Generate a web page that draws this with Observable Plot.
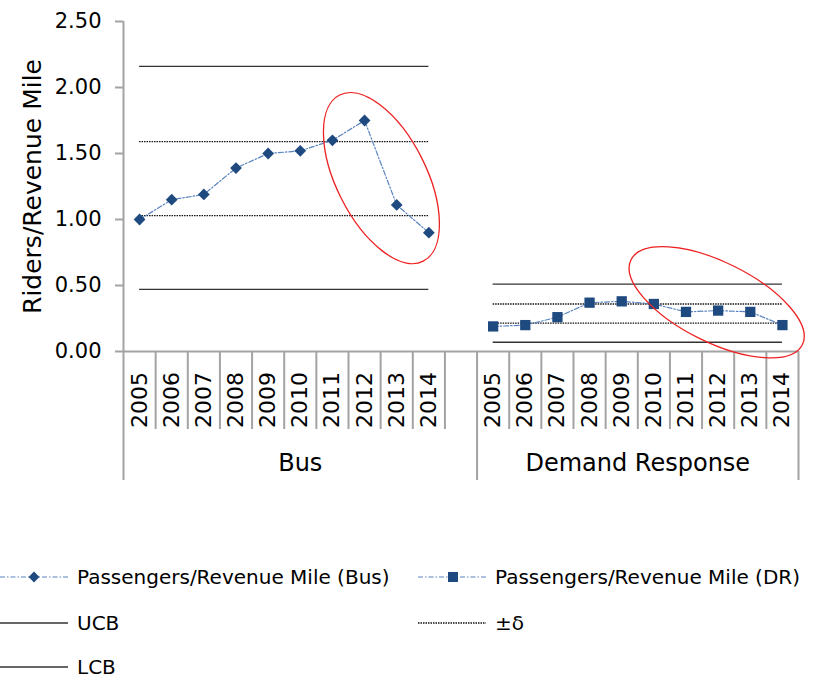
<!DOCTYPE html>
<html><head><meta charset="utf-8">
<script src="https://cdn.jsdelivr.net/npm/d3@7"></script>
<script src="https://cdn.jsdelivr.net/npm/@observablehq/plot@0.6"></script>
<style>
body{margin:0;background:#fff;font-family:"DejaVu Sans",sans-serif;}
#chart{position:relative;width:819px;height:677px;overflow:hidden;background:#fff}
.leg{position:absolute;display:flex;align-items:center;font-size:20px;color:#000;white-space:nowrap;height:24px;}
.leg svg{display:block;margin-right:9px}
</style></head><body><div id="chart"></div>
<script>
// ---------- data ----------
const years = ["2005","2006","2007","2008","2009","2010","2011","2012","2013","2014"];
const groups = ["Bus", "Demand Response"];
const busValues = [1.00, 1.15, 1.19, 1.39, 1.50, 1.52, 1.60, 1.75, 1.11, 0.90];
const drValues  = [0.19, 0.20, 0.26, 0.37, 0.38, 0.36, 0.30, 0.31, 0.30, 0.20];
const limitNames = ["UCB", "+δ", "−δ", "LCB"];
const busLimits = [2.16, 1.59, 1.03, 0.47];
const drLimits  = [0.51, 0.36, 0.215, 0.07];
const yTicks = [0, 0.5, 1.0, 1.5, 2.0, 2.5];
const yTitle = "Riders/Revenue Mile";
const legendLabels = ["Passengers/Revenue Mile (Bus)", "Passengers/Revenue Mile (DR)", "UCB", "±δ", "LCB"];

// ---------- derived tables ----------
const gap = 1;
const offsets = [0, years.length + gap];
const nSlots = years.length * 2 + gap;
const busRows = years.map((y, i) => ({year: y, pos: offsets[0] + i, value: busValues[i]}));
const drRows  = years.map((y, i) => ({year: y, pos: offsets[1] + i, value: drValues[i]}));
const yearRows = [...busRows, ...drRows];
const limitRows = [];
[busLimits, drLimits].forEach((lims, g) => lims.forEach((v, k) => limitRows.push({
  name: limitNames[k], value: v, x1: offsets[g], x2: offsets[g] + years.length - 1,
  solid: k === 0 || k === 3
})));
const groupBounds = [-0.5, offsets[1] - 0.5, nSlots - 0.5];
const groupRows = groups.map((name, g) => ({name, center: (groupBounds[g] + groupBounds[g + 1]) / 2}));
const yearBounds = [];
for (let i = 0; i < nSlots - 1; i++) { const b = i + 0.5; if (!groupBounds.includes(b)) yearBounds.push(b); }

// ---------- annotations (highlight ellipses) ----------
const highlights = [
  {x: 7.54, y: 1.31, rx: 93, ry: 45, angle: 63.3},
  {x: 17.97, y: 0.369, rx: 95.6, ry: 40, angle: 26.4}
];

// ---------- styles ----------
const axisGray = "#a3a3a3";
const lineBlue = "#5a84bf";
const markBlue = "#1f4a80";
const dash = "5,2,1.5,2";

function highlightMark(index, scales) {
  const g = d3.create("svg:g");
  for (const h of highlights) {
    g.append("ellipse").attr("cx", 0).attr("cy", 0).attr("rx", h.rx).attr("ry", h.ry)
      .attr("transform", `translate(${scales.x(h.x)},${scales.y(h.y)}) rotate(${h.angle})`)
      .attr("fill", "none").attr("stroke", "#ee2222").attr("stroke-width", 1.3);
  }
  return g.node();
}

const chart = Plot.plot({
  width: 819, height: 500,
  marginLeft: 123, marginRight: 21, marginTop: 21, marginBottom: 149,
  style: {fontFamily: "DejaVu Sans", background: "#fff", color: "#000"},
  x: {domain: [-0.5, nSlots - 0.5]},
  y: {domain: [0, 2.5]},
  marks: [
    Plot.axisY(yTicks, {tickFormat: d => d.toFixed(2), tickSize: 8, tickPadding: 14, fontSize: 21,
      stroke: axisGray, strokeWidth: 2, label: null}),
    Plot.ruleX([-0.5], {y1: 0, y2: 2.5, stroke: axisGray, strokeWidth: 2}),
    Plot.axisX(yearBounds, {tickSize: 78, tickFormat: () => "", stroke: axisGray, strokeWidth: 2, label: null}),
    Plot.axisX(groupBounds, {tickSize: 129, tickFormat: () => "", stroke: axisGray, strokeWidth: 2, label: null}),
    Plot.ruleY([0], {x1: -0.5, x2: nSlots - 0.5, stroke: axisGray, strokeWidth: 2}),
    Plot.text([yTitle], {frameAnchor: "left", rotate: -90, dx: -91, fontSize: 25, textAnchor: "middle", lineAnchor: "middle"}),
    Plot.text(yearRows, {x: "pos", text: "year", frameAnchor: "bottom", rotate: -90, dy: 48.5, fontSize: 22, textAnchor: "middle", lineAnchor: "middle"}),
    Plot.text(groupRows, {x: "center", text: "name", frameAnchor: "bottom", dy: 112, fontSize: 24, textAnchor: "middle", lineAnchor: "middle"}),
    Plot.ruleY(limitRows.filter(d => d.solid), {y: "value", x1: "x1", x2: "x2", stroke: "#333", strokeWidth: 1.3}),
    Plot.ruleY(limitRows.filter(d => !d.solid), {y: "value", x1: "x1", x2: "x2", stroke: "#111", strokeWidth: 1.3, strokeDasharray: "1.5,1"}),
    Plot.line(busRows, {x: "pos", y: "value", stroke: lineBlue, strokeWidth: 1.2, strokeDasharray: dash}),
    Plot.line(drRows, {x: "pos", y: "value", stroke: lineBlue, strokeWidth: 1.2, strokeDasharray: dash}),
    Plot.dot(busRows, {x: "pos", y: "value", symbol: "diamond2", r: 5.3, fill: markBlue}),
    Plot.dot(drRows, {x: "pos", y: "value", symbol: "square", r: 5.8, fill: markBlue}),
    highlightMark
  ]
});
const root = document.getElementById("chart");
root.appendChild(chart);

// ---------- legend ----------
function sample(kind) {
  const s = d3.create("svg").attr("width", 68).attr("height", 20);
  const ln = s.append("line").attr("x1", 0).attr("x2", 68).attr("y1", 10).attr("y2", 10);
  if (kind === "bus" || kind === "dr") {
    ln.attr("stroke", lineBlue).attr("stroke-width", 1.2).attr("stroke-dasharray", dash);
    if (kind === "bus") s.append("path").attr("d", "M34,4.6L39.4,10L34,15.4L28.6,10Z").attr("fill", markBlue);
    else s.append("rect").attr("x", 30).attr("y", 5).attr("width", 10).attr("height", 10).attr("fill", markBlue);
  } else if (kind === "solid") {
    ln.attr("stroke", "#333").attr("stroke-width", 1.3);
  } else {
    ln.attr("stroke", "#111").attr("stroke-width", 1.3).attr("stroke-dasharray", "1.5,1");
  }
  return s.node();
}
const legendItems = [
  {label: legendLabels[0], kind: "bus", left: 0, cy: 576.5},
  {label: legendLabels[1], kind: "dr", left: 418, cy: 576.5},
  {label: legendLabels[2], kind: "solid", left: 0, cy: 622.5},
  {label: legendLabels[3], kind: "dotted", left: 418, cy: 622.5},
  {label: legendLabels[4], kind: "solid", left: 0, cy: 666.5}
];
for (const it of legendItems) {
  const d = document.createElement("div");
  d.className = "leg";
  d.style.left = it.left + "px";
  d.style.top = (it.cy - 12) + "px";
  d.appendChild(sample(it.kind));
  const t = document.createElement("span");
  t.textContent = it.label;
  d.appendChild(t);
  root.appendChild(d);
}
</script></body></html>
